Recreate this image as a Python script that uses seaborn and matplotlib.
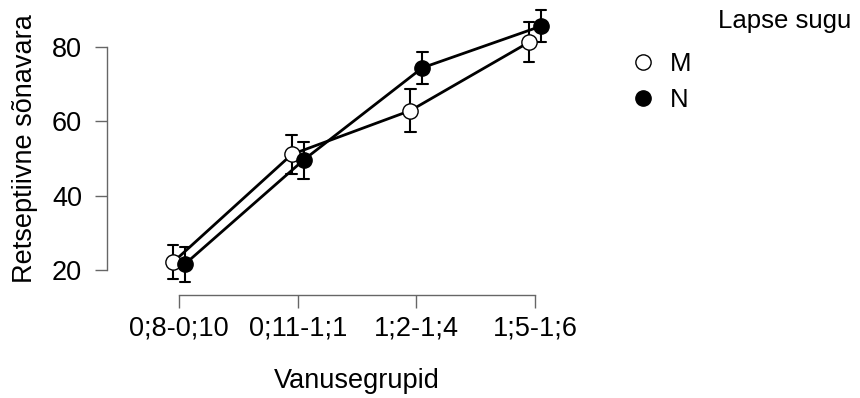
import pandas as pd
import matplotlib
matplotlib.use("Agg")
import matplotlib.pyplot as plt
import seaborn as sns
from matplotlib.lines import Line2D

# vanusegrupid ja keskmised koos veapiiridega
groups = ["0;8-0;10", "0;11-1;1", "1;2-1;4", "1;5-1;6"]
m_mean = [22.1, 51.1, 62.9, 81.3]
m_lo = [17.5, 45.8, 57.0, 76.0]
m_hi = [26.7, 56.3, 68.7, 86.7]
n_mean = [21.6, 49.6, 74.4, 85.6]
n_lo = [16.7, 44.5, 70.0, 81.3]
n_hi = [26.3, 54.5, 78.7, 90.0]

rows = []
for sex, mean, lo, hi in [("M", m_mean, m_lo, m_hi), ("N", n_mean, n_lo, n_hi)]:
    for g, a, b, c in zip(groups, lo, mean, hi):
        for v in (a, b, c):
            rows.append({"Vanusegrupid": g, "Lapse sugu": sex, "value": v})
df = pd.DataFrame(rows)

sns.set_theme(style="ticks")
plt.rcParams['font.family'] = ['Liberation Sans', 'DejaVu Sans']
plt.rcParams['text.color'] = 'black'
plt.rcParams['axes.labelcolor'] = 'black'

fig = plt.figure(figsize=(8.6, 3.98), dpi=100)
ax = fig.add_axes([107 / 860, 1 - 295 / 398, 453 / 860, 287 / 398])

sns.pointplot(data=df, x="Vanusegrupid", y="value", hue="Lapse sugu",
              order=groups, hue_order=["M", "N"],
              palette={"M": "black", "N": "black"},
              estimator="median", errorbar=lambda v: (v.min(), v.max()),
              markers="o", linestyles="-", dodge=0.1, capsize=0.09,
              err_kws={"linewidth": 1.5}, linewidth=2.0,
              markersize=11, markeredgewidth=1.0, markeredgecolor="black",
              legend=False, ax=ax)

marker_lines = [l for l in ax.lines if l.get_marker() == "o"]
marker_lines[0].set_markerfacecolor("white")
for l in marker_lines:
    l.set_zorder(3)

ax.set_xlim(-0.607, 3.21)
ax.set_ylim(13.27, 90.49)
ax.set_yticks([20, 40, 60, 80])

sns.despine(ax=ax)
ax.spines["left"].set_bounds(20, 80)
ax.spines["bottom"].set_bounds(0, 3)
for s in ("left", "bottom"):
    ax.spines[s].set_color("#666666")
    ax.spines[s].set_linewidth(1.0)
ax.tick_params(axis="both", direction="out", length=9, width=1.0,
               color="#666666", labelsize=19.5, labelcolor="black")
ax.tick_params(axis="x", pad=6)
ax.tick_params(axis="y", pad=9)

ax.set_xlabel("Vanusegrupid", fontsize=19.5, color="black")
ax.set_ylabel("Retseptiivne sõnavara", fontsize=19.5, color="black")
ax.xaxis.set_label_coords(0.552, -0.255)
ax.yaxis.set_label_coords(-0.152, 0.51)

handles = [
    Line2D([], [], linestyle="none", marker="o", markersize=11,
           markerfacecolor="white", markeredgecolor="black", markeredgewidth=1.0),
    Line2D([], [], linestyle="none", marker="o", markersize=11,
           markerfacecolor="black", markeredgecolor="black", markeredgewidth=1.0),
]
fig.legend(handles, ["M", "N"], loc="upper left",
           bbox_to_anchor=(630 / 860, 1 - 52 / 398), frameon=False,
           fontsize=18.5, handlelength=1.0, handletextpad=0.55,
           labelspacing=0.45, borderpad=0, borderaxespad=0)
fig.text(718 / 860, 1 - 28 / 398, "Lapse sugu", fontsize=18.5,
         ha="left", va="baseline", color="black")

fig.savefig("out.png", dpi=100)
